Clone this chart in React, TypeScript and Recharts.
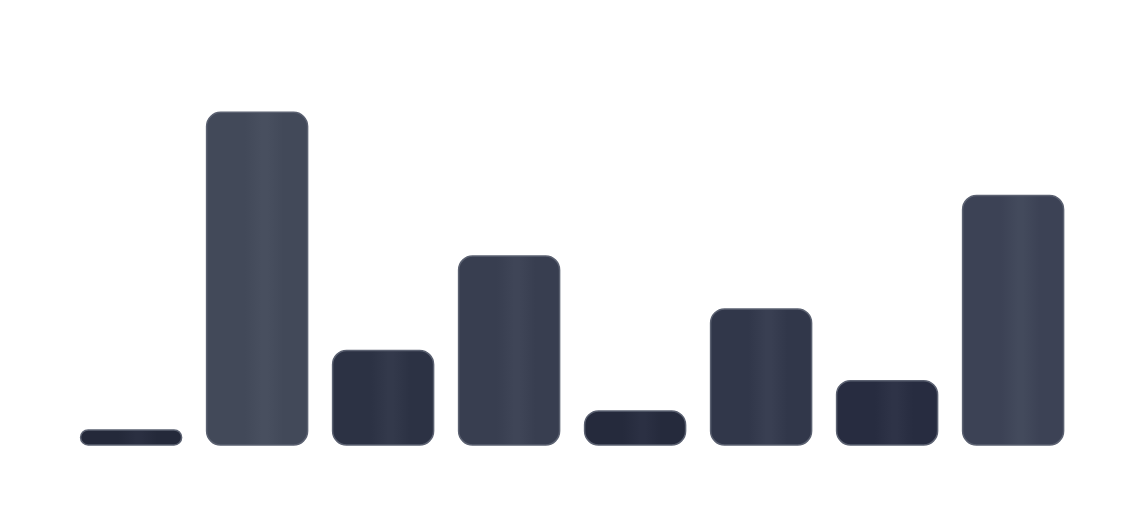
import { Bar, BarChart, Cell, XAxis, YAxis } from 'recharts';

const categories = ['A', 'B', 'C', 'D', 'E', 'F', 'G', 'H'];
const values = [4, 88, 25, 50, 9, 36, 17, 66];
const fills = ['#24293a', '#424959', '#2c3244', '#383e50', '#252a3c', '#31374a', '#272c40', '#3c4255'];
const highlights = ['#2a2f41', '#484f5f', '#33394b', '#3f4557', '#2b3043', '#393f52', '#2e3347', '#434a5c'];

const data = categories.map((name, i) => ({ name, value: values[i] }));

export default function App() {
  return (
    <BarChart
      width={1130}
      height={510}
      data={data}
      margin={{ top: 59, right: 62, bottom: 73, left: 60 }}
      barCategoryGap="10%"
    >
      <defs>
        {fills.map((c, i) => (
          <linearGradient key={i} id={`bar-grad-${i}`} x1="0" y1="0" x2="1" y2="0">
            <stop offset="0%" stopColor={c} />
            <stop offset="38%" stopColor={c} />
            <stop offset="55%" stopColor={highlights[i]} />
            <stop offset="60%" stopColor={highlights[i]} />
            <stop offset="76%" stopColor={c} />
            <stop offset="100%" stopColor={c} />
          </linearGradient>
        ))}
      </defs>
      <XAxis dataKey="name" hide />
      <YAxis hide domain={[0, 100]} />
      <Bar
        dataKey="value"
        radius={14}
        stroke="#5b6171"
        strokeWidth={1.5}
        isAnimationActive={false}
      >
        {data.map((d, i) => (
          <Cell key={d.name} fill={`url(#bar-grad-${i})`} />
        ))}
      </Bar>
    </BarChart>
  );
}
